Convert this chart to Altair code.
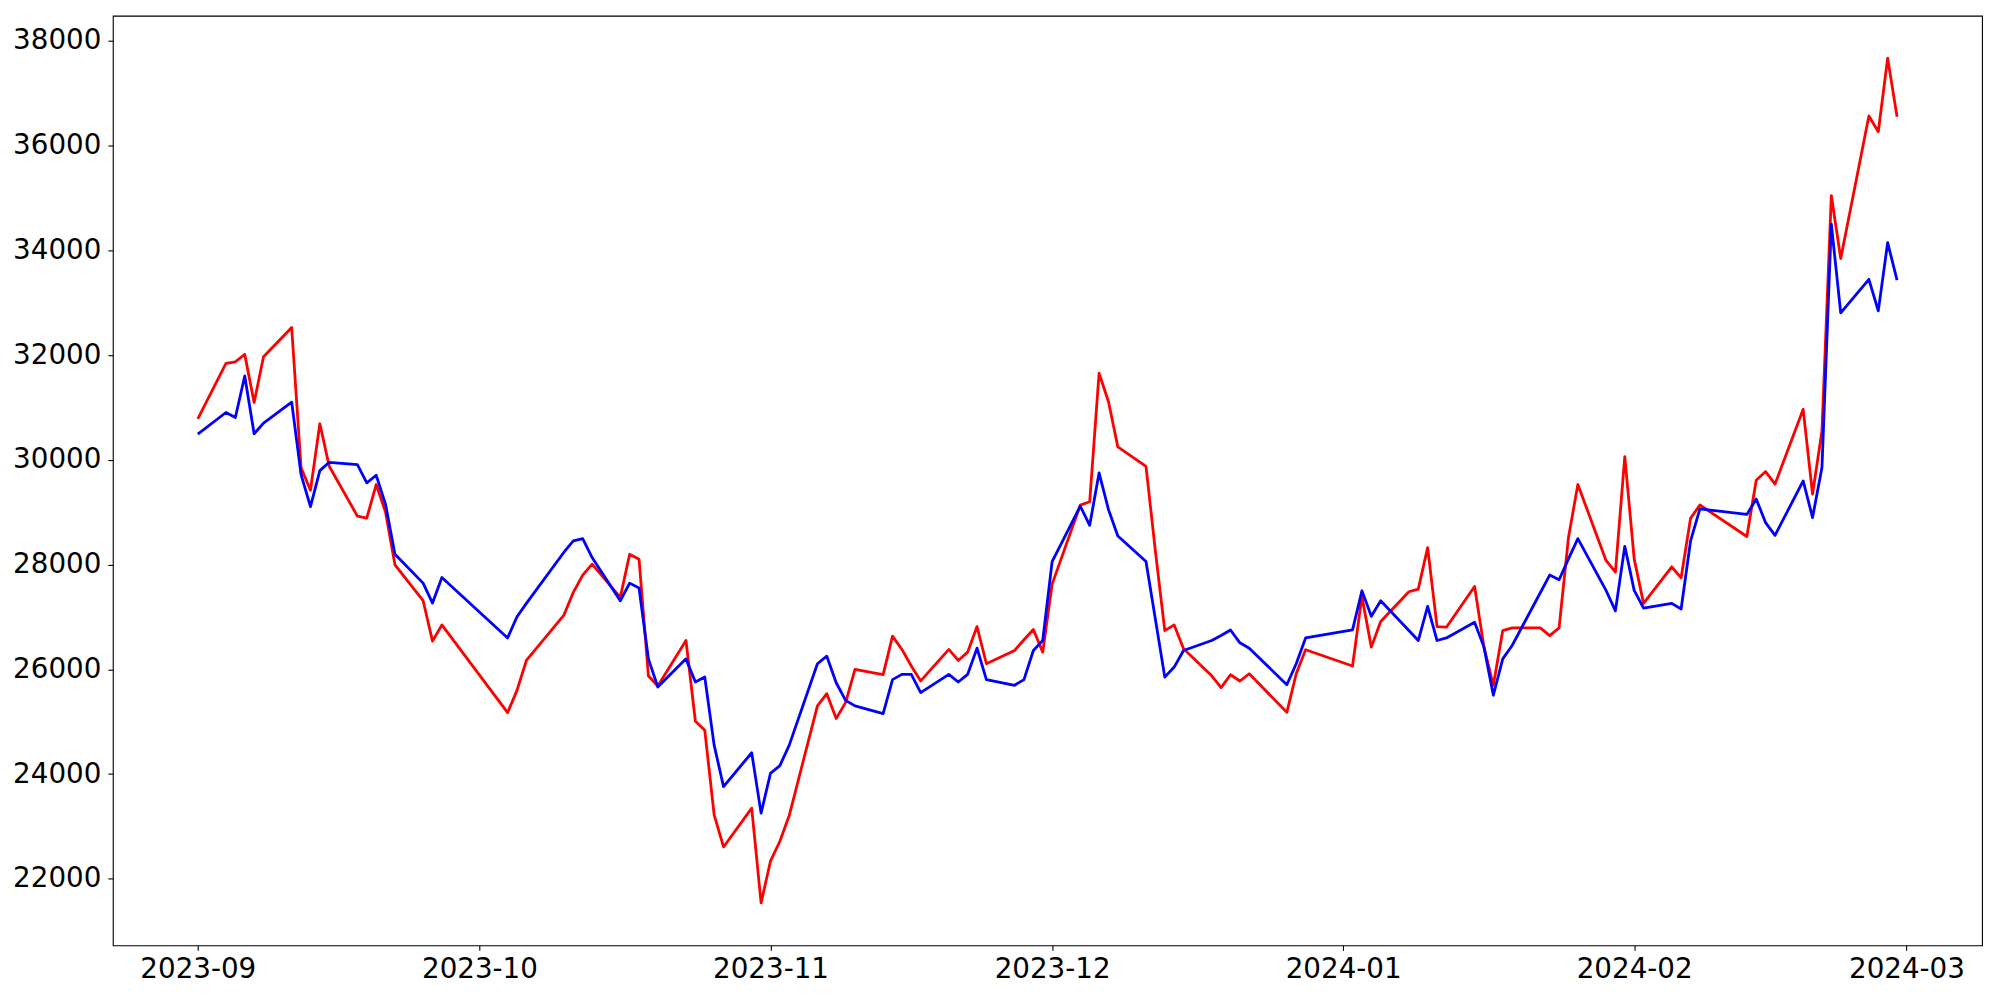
import altair as alt
import pandas as pd

dates = [
    "2023-09-01", "2023-09-04", "2023-09-05", "2023-09-06", "2023-09-07", "2023-09-08",
    "2023-09-11", "2023-09-12", "2023-09-13", "2023-09-14", "2023-09-15",
    "2023-09-18", "2023-09-19", "2023-09-20", "2023-09-21", "2023-09-22",
    "2023-09-25", "2023-09-26", "2023-09-27",
    "2023-10-04", "2023-10-05", "2023-10-06",
    "2023-10-10", "2023-10-11", "2023-10-12", "2023-10-13",
    "2023-10-16", "2023-10-17", "2023-10-18", "2023-10-19", "2023-10-20",
    "2023-10-23", "2023-10-24", "2023-10-25", "2023-10-26", "2023-10-27",
    "2023-10-30", "2023-10-31",
    "2023-11-01", "2023-11-02", "2023-11-03",
    "2023-11-06", "2023-11-07", "2023-11-08", "2023-11-09", "2023-11-10",
    "2023-11-13", "2023-11-14", "2023-11-15", "2023-11-16", "2023-11-17",
    "2023-11-20", "2023-11-21", "2023-11-22", "2023-11-23", "2023-11-24",
    "2023-11-27", "2023-11-28", "2023-11-29", "2023-11-30",
    "2023-12-01",
    "2023-12-04", "2023-12-05", "2023-12-06", "2023-12-07", "2023-12-08",
    "2023-12-11", "2023-12-12", "2023-12-13", "2023-12-14", "2023-12-15",
    "2023-12-18", "2023-12-19", "2023-12-20", "2023-12-21", "2023-12-22",
    "2023-12-26", "2023-12-27", "2023-12-28",
    "2024-01-02", "2024-01-03", "2024-01-04", "2024-01-05",
    "2024-01-08", "2024-01-09", "2024-01-10", "2024-01-11", "2024-01-12",
    "2024-01-15", "2024-01-16", "2024-01-17", "2024-01-18", "2024-01-19",
    "2024-01-22", "2024-01-23", "2024-01-24", "2024-01-25", "2024-01-26",
    "2024-01-29", "2024-01-30", "2024-01-31",
    "2024-02-01", "2024-02-02",
    "2024-02-05", "2024-02-06", "2024-02-07", "2024-02-08",
    "2024-02-13", "2024-02-14", "2024-02-15", "2024-02-16",
    "2024-02-19", "2024-02-20", "2024-02-21", "2024-02-22", "2024-02-23",
    "2024-02-26", "2024-02-27", "2024-02-28", "2024-02-29",
]

red_values = [
    30784, 31843, 31873, 32014, 31094, 31969,
    32527, 29846, 29420, 30689, 29877,
    28926, 28888, 29529, 29000, 27995,
    27310, 26538, 26848,
    25174, 25599, 26169,
    27037, 27470, 27800, 28008,
    27374, 28198, 28103, 25872, 25682,
    26550, 25009, 24838, 23222, 22608,
    23349, 21540,
    22337, 22717, 23210,
    25302, 25536, 25061, 25365, 26000,
    25899, 26635, 26380, 26064, 25779,
    26380, 26170, 26328, 26816, 26106,
    26360, 26564, 26760, 26328,
    27627,
    29135, 29199, 31653, 31114, 30246,
    29877, 28256, 26740, 26848, 26392,
    25876, 25651, 25897, 25777, 25916,
    25178, 25916, 26373,
    26064, 27392, 26424, 26912,
    27481, 27532, 28325, 26816, 26804,
    27583, 26424, 25695, 26740, 26791,
    26791, 26645, 26791, 28515, 29529,
    28080, 27855, 30063,
    28109, 27259,
    27958, 27747, 28883, 29138,
    28537, 29611, 29776, 29536,
    30965, 29348, 30552, 35046, 33844,
    36565, 36265, 37671, 36550,
]

blue_values = [
    30493, 30904, 30809, 31602, 30499, 30701,
    31101, 29719, 29105, 29795, 29953,
    29909, 29561, 29706, 29150, 28198,
    27646, 27266, 27754,
    26600, 27005, 27260,
    28236, 28451, 28496, 28135,
    27310, 27646, 27551, 26200, 25663,
    26200, 25758, 25853, 24553, 23761,
    24407, 23254,
    24014, 24160, 24553,
    26106, 26251, 25744, 25408, 25302,
    25156, 25803, 25904, 25904, 25555,
    25904, 25758, 25904, 26404, 25803,
    25695, 25803, 26360, 26550,
    28055,
    29116, 28749, 29750, 29053, 28546,
    28059, 26956, 25852, 26043, 26360,
    26550, 26645, 26752, 26506, 26404,
    25706, 26106, 26600,
    26752, 27500, 27012, 27310,
    26740, 26550, 27202, 26550, 26600,
    26899, 26424, 25505, 26200, 26455,
    27462, 27800, 27711, 28110, 28496,
    27507, 27116, 28349,
    27507, 27168,
    27259, 27153, 28446, 29063,
    28957, 29251, 28800, 28559,
    29597, 28898, 29852, 34500, 32807,
    33447, 32845, 34146, 33431,
]

y_ticks = [22000, 24000, 26000, 28000, 30000, 32000, 34000, 36000, 38000]
x_tick_months = [(2023, 9), (2023, 10), (2023, 11), (2023, 12), (2024, 1), (2024, 2), (2024, 3)]

df = pd.DataFrame({"date": dates, "red": red_values, "blue": blue_values})

x_scale = alt.Scale(
    type="utc",
    nice=False,
    domain=[
        alt.DateTime(year=2023, month=8, date=22, hours=22, minutes=48, utc=True),
        alt.DateTime(year=2024, month=3, date=9, hours=1, minutes=12, utc=True),
    ],
)
x_axis = alt.Axis(
    values=[alt.DateTime(year=y, month=m, date=1, utc=True) for y, m in x_tick_months],
    format="%Y-%m",
    labelPadding=5.5,
    labelOverlap=False,
    labelFlush=False,
)
y_scale = alt.Scale(domain=[20730, 38480], nice=False, zero=False)
y_axis = alt.Axis(values=y_ticks, format="d", labelPadding=7)

base = alt.Chart(df)

red_line = base.mark_line(color="#ff0000", strokeWidth=2.8, strokeJoin="round").encode(
    x=alt.X("date:T", scale=x_scale, axis=x_axis, title=None),
    y=alt.Y("red:Q", scale=y_scale, axis=y_axis, title=None),
)
blue_line = base.mark_line(color="#0000ff", strokeWidth=2.8, strokeJoin="round").encode(
    x=alt.X("date:T", scale=x_scale, axis=x_axis, title=None),
    y=alt.Y("blue:Q", scale=y_scale, axis=y_axis, title=None),
)

chart = (
    alt.layer(red_line, blue_line)
    .properties(
        width=1872,
        height=931,
        autosize=alt.AutoSizeParams(type="none"),
        padding={"left": 105, "top": 7, "right": 10, "bottom": 50},
        background="white",
    )
    .configure_view(stroke="black", strokeWidth=1.1)
    .configure_axis(
        domain=False,
        grid=False,
        ticks=True,
        tickColor="black",
        tickSize=5,
        tickWidth=1.1,
        labelFont="DejaVu Sans",
        labelFontSize=27.8,
        labelColor="black",
    )
)

chart.save("out.html", embed_options={"renderer": "svg", "actions": False})
